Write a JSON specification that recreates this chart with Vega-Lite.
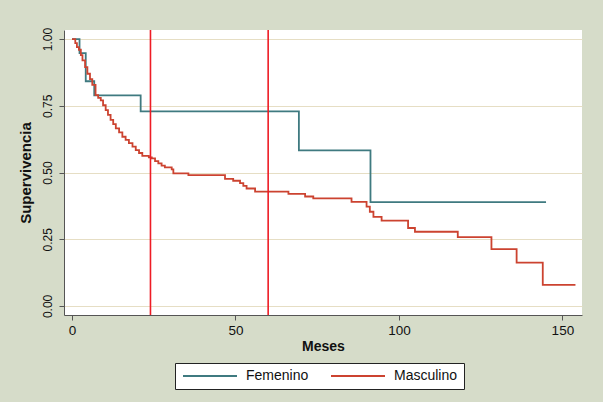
{
  "$schema": "https://vega.github.io/schema/vega-lite/v6.json",
  "width": 518,
  "height": 285,
  "autosize": {"type": "none"},
  "padding": {"left": 64, "top": 30, "right": 21, "bottom": 87},
  "background": "#d6dcc9",
  "config": {
    "view": {"fill": "white", "stroke": null},
    "font": "Liberation Sans",
    "axis": {
      "domainColor": "#555555",
      "tickColor": "#555555",
      "labelColor": "#111111",
      "titleColor": "#111111",
      "labelFont": "Liberation Sans",
      "titleFont": "Liberation Sans",
      "labelFontSize": 12,
      "titleFontSize": 14,
      "tickSize": 5
    }
  },
  "datasets": {
    "km": [
      {"grupo": "Femenino", "meses": 0, "surv": 1.0},
      {"grupo": "Femenino", "meses": 2.3, "surv": 0.947},
      {"grupo": "Femenino", "meses": 4.2, "surv": 0.842},
      {"grupo": "Femenino", "meses": 6.8, "surv": 0.789},
      {"grupo": "Femenino", "meses": 21.0, "surv": 0.729},
      {"grupo": "Femenino", "meses": 69.4, "surv": 0.583},
      {"grupo": "Femenino", "meses": 91.3, "surv": 0.389},
      {"grupo": "Femenino", "meses": 145, "surv": 0.389},
      {"grupo": "Masculino", "meses": 0, "surv": 1.0},
      {"grupo": "Masculino", "meses": 1, "surv": 0.985},
      {"grupo": "Masculino", "meses": 1.5, "surv": 0.97},
      {"grupo": "Masculino", "meses": 2.1, "surv": 0.96},
      {"grupo": "Masculino", "meses": 2.7, "surv": 0.94},
      {"grupo": "Masculino", "meses": 3.2, "surv": 0.92},
      {"grupo": "Masculino", "meses": 4.0, "surv": 0.895},
      {"grupo": "Masculino", "meses": 4.7, "surv": 0.87},
      {"grupo": "Masculino", "meses": 5.5, "surv": 0.85},
      {"grupo": "Masculino", "meses": 6.2, "surv": 0.828},
      {"grupo": "Masculino", "meses": 7.2, "surv": 0.79},
      {"grupo": "Masculino", "meses": 8.0, "surv": 0.78},
      {"grupo": "Masculino", "meses": 8.8, "surv": 0.77},
      {"grupo": "Masculino", "meses": 9.5, "surv": 0.752},
      {"grupo": "Masculino", "meses": 10.3, "surv": 0.734},
      {"grupo": "Masculino", "meses": 11.0, "surv": 0.716},
      {"grupo": "Masculino", "meses": 11.8, "surv": 0.697},
      {"grupo": "Masculino", "meses": 12.6, "surv": 0.681},
      {"grupo": "Masculino", "meses": 13.4, "surv": 0.665},
      {"grupo": "Masculino", "meses": 14.4, "surv": 0.65},
      {"grupo": "Masculino", "meses": 15.4, "surv": 0.634},
      {"grupo": "Masculino", "meses": 16.4, "surv": 0.622},
      {"grupo": "Masculino", "meses": 17.4, "surv": 0.61},
      {"grupo": "Masculino", "meses": 18.5, "surv": 0.597},
      {"grupo": "Masculino", "meses": 19.5, "surv": 0.584},
      {"grupo": "Masculino", "meses": 20.5, "surv": 0.573},
      {"grupo": "Masculino", "meses": 21.5, "surv": 0.562},
      {"grupo": "Masculino", "meses": 23.5, "surv": 0.557},
      {"grupo": "Masculino", "meses": 24.4, "surv": 0.553},
      {"grupo": "Masculino", "meses": 25.4, "surv": 0.543},
      {"grupo": "Masculino", "meses": 26.4, "surv": 0.534},
      {"grupo": "Masculino", "meses": 27.4, "surv": 0.526},
      {"grupo": "Masculino", "meses": 28.4, "surv": 0.519},
      {"grupo": "Masculino", "meses": 30.5, "surv": 0.512},
      {"grupo": "Masculino", "meses": 31.0, "surv": 0.497},
      {"grupo": "Masculino", "meses": 35.6, "surv": 0.49},
      {"grupo": "Masculino", "meses": 46.8, "surv": 0.476},
      {"grupo": "Masculino", "meses": 49.3, "surv": 0.469},
      {"grupo": "Masculino", "meses": 51.4, "surv": 0.46},
      {"grupo": "Masculino", "meses": 52.4, "surv": 0.45},
      {"grupo": "Masculino", "meses": 53.4, "surv": 0.44},
      {"grupo": "Masculino", "meses": 56.0, "surv": 0.428},
      {"grupo": "Masculino", "meses": 66.2, "surv": 0.42},
      {"grupo": "Masculino", "meses": 71.3, "surv": 0.41},
      {"grupo": "Masculino", "meses": 73.8, "surv": 0.403},
      {"grupo": "Masculino", "meses": 85.5, "surv": 0.39},
      {"grupo": "Masculino", "meses": 90.1, "surv": 0.372},
      {"grupo": "Masculino", "meses": 91.1, "surv": 0.353},
      {"grupo": "Masculino", "meses": 92.2, "surv": 0.334},
      {"grupo": "Masculino", "meses": 94.7, "surv": 0.32},
      {"grupo": "Masculino", "meses": 102.8, "surv": 0.292},
      {"grupo": "Masculino", "meses": 104.9, "surv": 0.278},
      {"grupo": "Masculino", "meses": 118.0, "surv": 0.258},
      {"grupo": "Masculino", "meses": 128.3, "surv": 0.213},
      {"grupo": "Masculino", "meses": 136.0, "surv": 0.162},
      {"grupo": "Masculino", "meses": 144.0, "surv": 0.079},
      {"grupo": "Masculino", "meses": 154.0, "surv": 0.079}
    ],
    "cortes": [{"meses": 24}, {"meses": 60}]
  },
  "layer": [
    {
      "data": {"name": "km"},
      "mark": {"type": "line", "interpolate": "step-after", "strokeWidth": 1.8},
      "encoding": {
        "x": {
          "field": "meses",
          "type": "quantitative",
          "scale": {"domain": [-2.45, 156], "nice": false, "zero": false},
          "axis": {
            "values": [0, 50, 100, 150],
            "title": "Meses",
            "grid": false,
            "labelFontSize": 13.5,
            "labelPadding": 3,
            "titlePadding": 3
          }
        },
        "y": {
          "field": "surv",
          "type": "quantitative",
          "scale": {"domain": [-0.034, 1.034], "nice": false, "zero": false},
          "axis": {
            "values": [0, 0.25, 0.5, 0.75, 1],
            "format": ".2f",
            "title": "Supervivencia",
            "titleFontSize": 15,
            "titleFontWeight": "bold",
            "labelAngle": -90,
            "labelAlign": "center",
            "labelBaseline": "bottom",
            "labelPadding": 5,
            "titlePadding": 8,
            "grid": true,
            "gridColor": "#e6dec4",
            "gridWidth": 1.2
          }
        },
        "color": {
          "field": "grupo",
          "type": "nominal",
          "scale": {"domain": ["Femenino", "Masculino"], "range": ["#3f7a80", "#cc4330"]},
          "legend": {
            "title": null,
            "orient": "none",
            "direction": "horizontal",
            "legendX": 111,
            "legendY": 333,
            "fillColor": "white",
            "strokeColor": "#222222",
            "padding": 6,
            "symbolType": "M-1,0H9.8",
            "symbolSize": 100,
            "symbolStrokeWidth": 2,
            "labelFontSize": 14,
            "labelColor": "#111111",
            "labelOffset": 51,
            "columnPadding": 18
          }
        }
      }
    },
    {
      "data": {"name": "cortes"},
      "mark": {"type": "rule", "color": "#ee1c25", "strokeWidth": 1.6},
      "encoding": {
        "x": {"field": "meses", "type": "quantitative"}
      }
    }
  ]
}
